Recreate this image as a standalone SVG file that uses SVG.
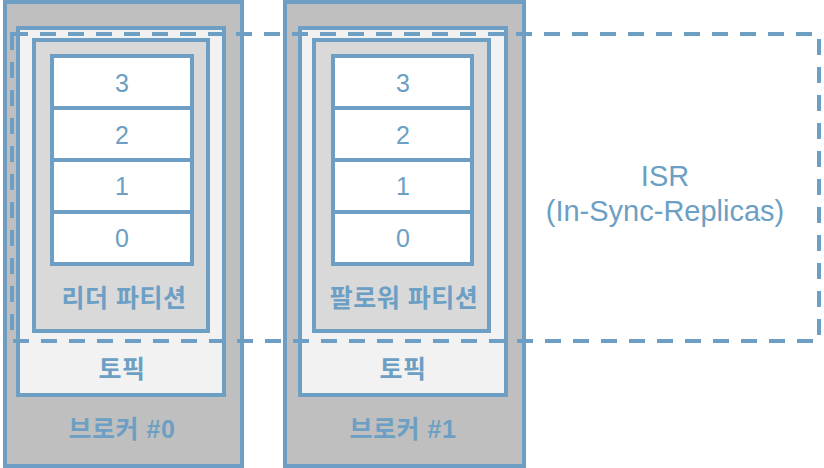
<svg xmlns="http://www.w3.org/2000/svg" width="824" height="468" viewBox="0 0 824 468">
<style>
.b{fill:#bfbfbf;stroke:#6c9fc3;stroke-width:4}
.t{fill:#f2f2f2;stroke:#6c9fc3;stroke-width:4}
.p{fill:#d9d9d9;stroke:#6c9fc3;stroke-width:4}
.c{fill:#ffffff;stroke:#6c9fc3;stroke-width:4}
.isr{fill:none;stroke:#6c9fc3;stroke-width:4;stroke-dasharray:16 12}
text{fill:#6c9fc3;font-family:"Liberation Sans","Noto Sans CJK KR",sans-serif;text-anchor:middle}
.n{font-size:25px}
.k{font-size:25px;font-weight:bold;letter-spacing:0.5px}
.i{font-size:29px}
</style>
<g id="broker0">
<rect class="b" x="5" y="2" width="237" height="464"/>
<text class="k" x="122" y="438">브로커 #0</text>
<g id="topic0">
<rect class="t" x="18" y="28" width="206" height="367"/>
<text class="k" x="122" y="378">토픽</text>
</g>
<g id="leader">
<rect class="p" x="34" y="40" width="174" height="291"/>
<text class="k" x="124" y="307">리더 파티션</text>
<rect class="c" x="52" y="56" width="140" height="52"/>
<rect class="c" x="52" y="108" width="140" height="52"/>
<rect class="c" x="52" y="160" width="140" height="52"/>
<rect class="c" x="52" y="212" width="140" height="52"/>
<text class="n" x="122" y="92">3</text>
<text class="n" x="122" y="144">2</text>
<text class="n" x="122" y="195">1</text>
<text class="n" x="122" y="247">0</text>
</g>
</g>
<g id="broker1">
<rect class="b" x="285" y="2" width="239" height="464"/>
<text class="k" x="403" y="438">브로커 #1</text>
<g id="topic1">
<rect class="t" x="300" y="28" width="206" height="367"/>
<text class="k" x="403" y="378">토픽</text>
</g>
<g id="follower">
<rect class="p" x="314" y="40" width="175" height="291"/>
<text class="k" x="404" y="307">팔로워 파티션</text>
<rect class="c" x="333" y="56" width="139" height="52"/>
<rect class="c" x="333" y="108" width="139" height="52"/>
<rect class="c" x="333" y="160" width="139" height="52"/>
<rect class="c" x="333" y="212" width="139" height="52"/>
<text class="n" x="403" y="92">3</text>
<text class="n" x="403" y="144">2</text>
<text class="n" x="403" y="195">1</text>
<text class="n" x="403" y="247">0</text>
</g>
</g>
<g id="isr">
<rect class="isr" x="12" y="34" width="807" height="307"/>
<text class="i" x="665" y="186">ISR</text>
<text class="i" x="665" y="221">(In-Sync-Replicas)</text>
</g>
</svg>
